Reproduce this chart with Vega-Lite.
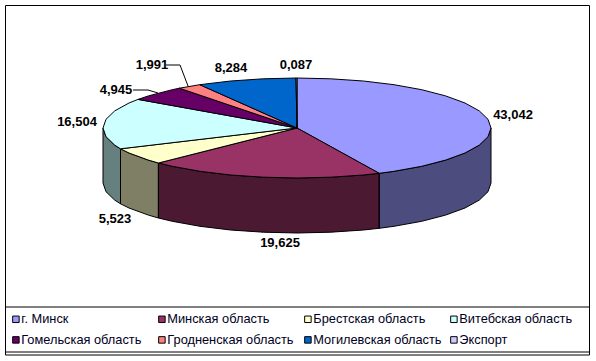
{"$schema":"https://vega.github.io/schema/vega-lite/v6.json","width":596,"height":361,"padding":0,"autosize":"none","background":"white",
"datasets":{
"frames":[{"x":5.5,"x2":589.5,"y":5.5,"y2":355},{"x":5.5,"x2":589.5,"y":307,"y2":352}],
"sides":[
{"r":"г. Минск","i":1,"x":491,"y":128},{"r":"г. Минск","i":2,"x":488,"y":136.7},{"r":"г. Минск","i":3,"x":479.3,"y":145.1},{"r":"г. Минск","i":4,"x":465,"y":153},{"r":"г. Минск","i":5,"x":445.6,"y":160.1},{"r":"г. Минск","i":6,"x":421.7,"y":166.3},{"r":"г. Минск","i":7,"x":394,"y":171.3},{"r":"г. Минск","i":8,"x":379.2,"y":173.3},{"r":"г. Минск","i":9,"x":379.2,"y":228.3},{"r":"г. Минск","i":10,"x":394,"y":226.3},{"r":"г. Минск","i":11,"x":421.7,"y":221.3},{"r":"г. Минск","i":12,"x":445.6,"y":215.1},{"r":"г. Минск","i":13,"x":465,"y":208},{"r":"г. Минск","i":14,"x":479.3,"y":200.1},{"r":"г. Минск","i":15,"x":488,"y":191.7},{"r":"г. Минск","i":16,"x":491,"y":183},{"r":"г. Минск","i":17,"x":491,"y":128},
{"r":"Минская область","i":1,"x":379.2,"y":173.3},{"r":"Минская область","i":2,"x":363.4,"y":175},{"r":"Минская область","i":3,"x":330.7,"y":177.2},{"r":"Минская область","i":4,"x":297,"y":178},{"r":"Минская область","i":5,"x":263.3,"y":177.2},{"r":"Минская область","i":6,"x":230.6,"y":175},{"r":"Минская область","i":7,"x":200,"y":171.3},{"r":"Минская область","i":8,"x":172.3,"y":166.3},{"r":"Минская область","i":9,"x":158.4,"y":163},{"r":"Минская область","i":10,"x":158.4,"y":218},{"r":"Минская область","i":11,"x":172.3,"y":221.3},{"r":"Минская область","i":12,"x":200,"y":226.3},{"r":"Минская область","i":13,"x":230.6,"y":230},{"r":"Минская область","i":14,"x":263.3,"y":232.2},{"r":"Минская область","i":15,"x":297,"y":233},{"r":"Минская область","i":16,"x":330.7,"y":232.2},{"r":"Минская область","i":17,"x":363.4,"y":230},{"r":"Минская область","i":18,"x":379.2,"y":228.3},{"r":"Минская область","i":19,"x":379.2,"y":173.3},
{"r":"Брестская область","i":1,"x":158.4,"y":163},{"r":"Брестская область","i":2,"x":148.4,"y":160.1},{"r":"Брестская область","i":3,"x":129,"y":153},{"r":"Брестская область","i":4,"x":120.5,"y":148.8},{"r":"Брестская область","i":5,"x":120.5,"y":203.8},{"r":"Брестская область","i":6,"x":129,"y":208},{"r":"Брестская область","i":7,"x":148.4,"y":215.1},{"r":"Брестская область","i":8,"x":158.4,"y":218},{"r":"Брестская область","i":9,"x":158.4,"y":163},
{"r":"Витебская область","i":1,"x":120.5,"y":148.8},{"r":"Витебская область","i":2,"x":114.7,"y":145.1},{"r":"Витебская область","i":3,"x":106,"y":136.7},{"r":"Витебская область","i":4,"x":103,"y":128},{"r":"Витебская область","i":5,"x":103,"y":183},{"r":"Витебская область","i":6,"x":106,"y":191.7},{"r":"Витебская область","i":7,"x":114.7,"y":200.1},{"r":"Витебская область","i":8,"x":120.5,"y":203.8},{"r":"Витебская область","i":9,"x":120.5,"y":148.8}
],
"tops":[
{"r":"г. Минск","i":0,"x":297,"y":128},{"r":"г. Минск","i":1,"x":297,"y":78},{"r":"г. Минск","i":2,"x":330.7,"y":78.8},{"r":"г. Минск","i":3,"x":363.4,"y":81},{"r":"г. Минск","i":4,"x":394,"y":84.7},{"r":"г. Минск","i":5,"x":421.7,"y":89.7},{"r":"г. Минск","i":6,"x":445.6,"y":95.9},{"r":"г. Минск","i":7,"x":465,"y":103},{"r":"г. Минск","i":8,"x":479.3,"y":110.9},{"r":"г. Минск","i":9,"x":488,"y":119.3},{"r":"г. Минск","i":10,"x":491,"y":128},{"r":"г. Минск","i":11,"x":488,"y":136.7},{"r":"г. Минск","i":12,"x":479.3,"y":145.1},{"r":"г. Минск","i":13,"x":465,"y":153},{"r":"г. Минск","i":14,"x":445.6,"y":160.1},{"r":"г. Минск","i":15,"x":421.7,"y":166.3},{"r":"г. Минск","i":16,"x":394,"y":171.3},{"r":"г. Минск","i":17,"x":379.2,"y":173.3},{"r":"г. Минск","i":18,"x":297,"y":128},
{"r":"Минская область","i":0,"x":297,"y":128},{"r":"Минская область","i":1,"x":379.2,"y":173.3},{"r":"Минская область","i":2,"x":363.4,"y":175},{"r":"Минская область","i":3,"x":330.7,"y":177.2},{"r":"Минская область","i":4,"x":297,"y":178},{"r":"Минская область","i":5,"x":263.3,"y":177.2},{"r":"Минская область","i":6,"x":230.6,"y":175},{"r":"Минская область","i":7,"x":200,"y":171.3},{"r":"Минская область","i":8,"x":172.3,"y":166.3},{"r":"Минская область","i":9,"x":158.4,"y":163},{"r":"Минская область","i":10,"x":297,"y":128},
{"r":"Брестская область","i":0,"x":297,"y":128},{"r":"Брестская область","i":1,"x":158.4,"y":163},{"r":"Брестская область","i":2,"x":148.4,"y":160.1},{"r":"Брестская область","i":3,"x":129,"y":153},{"r":"Брестская область","i":4,"x":120.5,"y":148.8},{"r":"Брестская область","i":5,"x":297,"y":128},
{"r":"Витебская область","i":0,"x":297,"y":128},{"r":"Витебская область","i":1,"x":120.5,"y":148.8},{"r":"Витебская область","i":2,"x":114.7,"y":145.1},{"r":"Витебская область","i":3,"x":106,"y":136.7},{"r":"Витебская область","i":4,"x":103,"y":128},{"r":"Витебская область","i":5,"x":106,"y":119.3},{"r":"Витебская область","i":6,"x":114.7,"y":110.9},{"r":"Витебская область","i":7,"x":129,"y":103},{"r":"Витебская область","i":8,"x":138,"y":99.4},{"r":"Витебская область","i":9,"x":297,"y":128},
{"r":"Гомельская область","i":0,"x":297,"y":128},{"r":"Гомельская область","i":1,"x":138,"y":99.4},{"r":"Гомельская область","i":2,"x":148.4,"y":95.9},{"r":"Гомельская область","i":3,"x":172.3,"y":89.7},{"r":"Гомельская область","i":4,"x":179.4,"y":88.2},{"r":"Гомельская область","i":5,"x":297,"y":128},
{"r":"Гродненская область","i":0,"x":297,"y":128},{"r":"Гродненская область","i":1,"x":179.4,"y":88.2},{"r":"Гродненская область","i":2,"x":199.7,"y":84.7},{"r":"Гродненская область","i":3,"x":297,"y":128},
{"r":"Могилевская область","i":0,"x":297,"y":128},{"r":"Могилевская область","i":1,"x":199.7,"y":84.7},{"r":"Могилевская область","i":2,"x":230.6,"y":81},{"r":"Могилевская область","i":3,"x":263.3,"y":78.8},{"r":"Могилевская область","i":4,"x":296,"y":78},{"r":"Могилевская область","i":5,"x":297,"y":128},
{"r":"Экспорт","i":0,"x":297,"y":128},{"r":"Экспорт","i":1,"x":296,"y":78},{"r":"Экспорт","i":2,"x":297,"y":78},{"r":"Экспорт","i":3,"x":297,"y":128}
],
"leaders":[
{"k":"a","i":1,"x":133,"y":90},{"k":"a","i":2,"x":148,"y":90},{"k":"a","i":3,"x":158,"y":93},
{"k":"b","i":1,"x":166,"y":65},{"k":"b","i":2,"x":180,"y":65},{"k":"b","i":3,"x":188,"y":86}
],
"labels":[
{"t":"43,042","x":513,"y":115},{"t":"19,625","x":280,"y":243},{"t":"5,523","x":115,"y":219},{"t":"16,504","x":77,"y":122},{"t":"4,945","x":116,"y":90},{"t":"1,991","x":152,"y":65},{"t":"8,284","x":231,"y":68},{"t":"0,087","x":296,"y":65}
]},
"encoding":{"x":{"field":"x","type":"quantitative","scale":{"domain":[0,596],"nice":false,"zero":false},"axis":null},"y":{"field":"y","type":"quantitative","scale":{"domain":[0,361],"reverse":true,"nice":false,"zero":false},"axis":null}},
"layer":[
{"data":{"name":"frames"},"mark":{"type":"rect","fill":"white","stroke":"black","strokeWidth":1},
"encoding":{"x2":{"field":"x2"},"y2":{"field":"y2"}}},
{"data":{"name":"sides"},"mark":{"type":"line","strokeWidth":0},
"encoding":{"order":{"field":"i"},
"fill":{"field":"r","type":"nominal","scale":{"domain":["г. Минск","Минская область","Брестская область","Витебская область","Гомельская область","Гродненская область","Могилевская область","Экспорт"],"range":["#9999FF","#993366","#FFFFCC","#CCFFFF","#660066","#FF8080","#0066CC","#CCCCFF"]},
"legend":{"orient":"none","legendX":9.5,"legendY":312.5,"columns":4,"direction":"horizontal","title":null,"gridAlign":"all","symbolType":"square","symbolSize":42,"symbolStrokeColor":"black","symbolStrokeWidth":1,"symbolOpacity":1,"labelFont":"Liberation Sans","labelFontSize":12.8,"labelColor":"#000022","labelOffset":-1,"columnPadding":5,"rowPadding":7,"padding":0,"labelLimit":200}}}},
{"data":{"name":"sides"},"mark":{"type":"line","fill":"black","fillOpacity":0.5,"stroke":"black","strokeWidth":1},
"encoding":{"order":{"field":"i"},"detail":{"field":"r"}}},
{"data":{"name":"tops"},"mark":{"type":"line","stroke":"black","strokeWidth":1},
"encoding":{"order":{"field":"i"},"fill":{"field":"r","type":"nominal"}}},
{"data":{"name":"leaders"},"mark":{"type":"line","stroke":"black","strokeWidth":1},
"encoding":{"order":{"field":"i"},"detail":{"field":"k"}}},
{"data":{"name":"labels"},"mark":{"type":"text","font":"Liberation Sans","fontWeight":"bold","fontSize":13,"color":"#000000"},
"encoding":{"text":{"field":"t"}}}
],
"config":{"view":{"stroke":null}}}
